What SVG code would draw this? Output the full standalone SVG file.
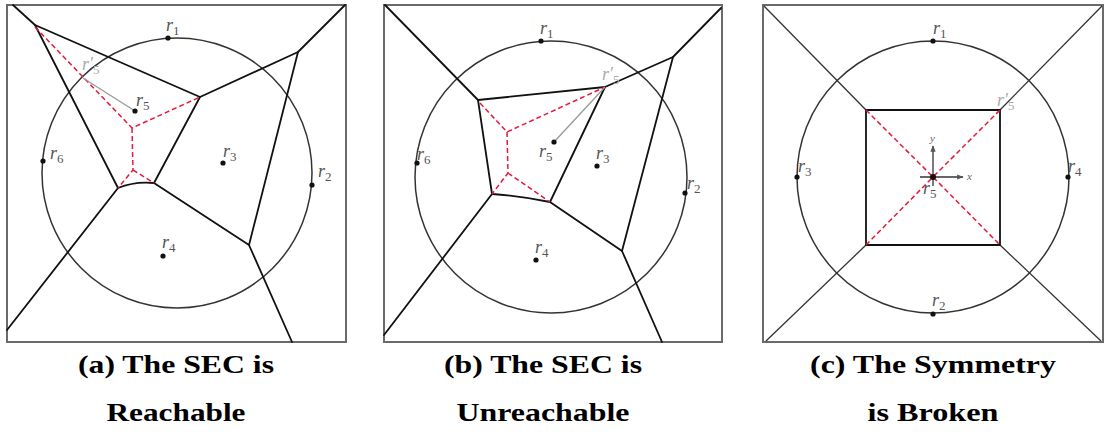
<svg xmlns="http://www.w3.org/2000/svg" width="1106" height="436" viewBox="0 0 1106 436">
<style>
.frame{fill:none;stroke:#6a6a6a;stroke-width:2}
.edge{fill:none;stroke:#111;stroke-width:1.8;stroke-linecap:round;stroke-linejoin:round}
.thin{fill:none;stroke:#333;stroke-width:1.3}
.circ{fill:none;stroke:#333;stroke-width:1.5}
.red{fill:none;stroke:#e8183c;stroke-width:1.5;stroke-dasharray:5 3}
.gray{fill:none;stroke:#999;stroke-width:1.3}
.dot{fill:#111}
.lbl{font-style:italic;font-size:18px;fill:#555}
.lbl2{font-style:italic;font-size:18px;fill:#aaa}
.sub{font-size:13px;font-style:normal}
.ax{font-style:italic;font-size:11px;fill:#666}
.cap{font-weight:bold;font-size:25px;fill:#000;text-anchor:middle;font-stretch:condensed}
</style>
<defs>
<marker id="ah" viewBox="0 0 10 10" refX="9" refY="5" markerWidth="5" markerHeight="5" orient="auto">
<path d="M0,1 L10,5 L0,9 z" fill="#555"/>
</marker>
</defs>

<g id="panel-a">
<rect class="frame" x="7" y="5" width="339" height="337"/>
<circle class="circ" cx="177" cy="173" r="135"/>
<g id="edges-a">
<path class="edge" d="M13,5 L35,25 L200,97 L298,52 L345,5"/>
<path class="edge" d="M35,25 L118,188 L7,330"/>
<path class="edge" d="M200,97 L154,183 L249,245 L292,342"/>
<path class="edge" d="M298,52 L249,245"/>
<path class="edge" d="M118,188 Q135,181 154,183"/>
<path class="red" d="M35,27 L132,128 L200,97 M132,128 L133,170 L118,188 M133,170 L154,183"/>
<line class="gray" x1="135" y1="111" x2="83" y2="78"/>
</g>
<g id="points-a" font-family="Liberation Serif, serif">
<circle class="dot" cx="168" cy="38" r="2.6"/>
<circle class="dot" cx="312" cy="185" r="2.6"/>
<circle class="dot" cx="223" cy="163" r="2.6"/>
<circle class="dot" cx="163" cy="256" r="2.6"/>
<circle class="dot" cx="135" cy="111" r="2.6"/>
<circle class="dot" cx="43" cy="161" r="2.6"/>
<text class="lbl" x="166" y="31">r<tspan class="sub" dy="4">1</tspan></text>
<text class="lbl" x="318" y="177">r<tspan class="sub" dy="4">2</tspan></text>
<text class="lbl" x="223" y="157">r<tspan class="sub" dy="4">3</tspan></text>
<text class="lbl" x="162" y="248">r<tspan class="sub" dy="4">4</tspan></text>
<text class="lbl" x="136" y="106">r<tspan class="sub" dy="4">5</tspan></text>
<text class="lbl" x="50" y="159">r<tspan class="sub" dy="4">6</tspan></text>
<text class="lbl2" x="82" y="70">r′<tspan class="sub" dy="4">5</tspan></text>
</g>
</g>

<g id="panel-b">
<rect class="frame" x="384" y="5" width="338" height="337"/>
<circle class="circ" cx="551" cy="177" r="136"/>
<g id="edges-b">
<path class="edge" d="M385,5 L478,100 L605,87 L673,57 L721,8"/>
<path class="edge" d="M478,100 L492,194 L384,335"/>
<path class="edge" d="M605,87 L550,202 L622,251 L662,342"/>
<path class="edge" d="M673,57 L622,251"/>
<path class="edge" d="M492,194 Q520,196 550,202"/>
<path class="red" d="M480,103 L507,132 L605,87 M507,132 L508,173 L492,194 M508,173 L550,202"/>
<line class="gray" x1="554" y1="142" x2="605" y2="87"/>
</g>
<g id="points-b" font-family="Liberation Serif, serif">
<circle class="dot" cx="541" cy="41" r="2.6"/>
<circle class="dot" cx="685" cy="193" r="2.6"/>
<circle class="dot" cx="597" cy="166" r="2.6"/>
<circle class="dot" cx="536" cy="260" r="2.6"/>
<circle class="dot" cx="554" cy="142" r="2.6"/>
<circle class="dot" cx="417" cy="163" r="2.6"/>
<text class="lbl" x="540" y="34">r<tspan class="sub" dy="4">1</tspan></text>
<text class="lbl" x="687" y="189">r<tspan class="sub" dy="4">2</tspan></text>
<text class="lbl" x="596" y="159">r<tspan class="sub" dy="4">3</tspan></text>
<text class="lbl" x="535" y="253">r<tspan class="sub" dy="4">4</tspan></text>
<text class="lbl" x="539" y="157">r<tspan class="sub" dy="4">5</tspan></text>
<text class="lbl" x="417" y="160">r<tspan class="sub" dy="4">6</tspan></text>
<text class="lbl2" x="602" y="80">r′<tspan class="sub" dy="4">5</tspan></text>
</g>
</g>

<g id="panel-c">
<rect class="frame" x="763" y="5" width="340" height="337"/>
<circle class="circ" cx="933" cy="177" r="136"/>
<g id="edges-c">
<line class="thin" x1="764" y1="6" x2="866" y2="110"/>
<line class="thin" x1="1102" y1="6" x2="1000" y2="110"/>
<line class="thin" x1="766" y1="341" x2="866" y2="245"/>
<line class="thin" x1="1101" y1="341" x2="1000" y2="245"/>
<rect class="edge" x="866" y="110" width="134" height="135"/>
<path class="red" d="M866,110 L933,177 L1000,110 M866,245 L933,177 L1000,245"/>
<line class="thin" x1="920" y1="177" x2="963" y2="177" marker-end="url(#ah)"/>
<line class="thin" x1="933" y1="186" x2="933" y2="146" marker-end="url(#ah)"/>
</g>
<g id="points-c" font-family="Liberation Serif, serif">
<circle class="dot" cx="933" cy="41" r="2.6"/>
<circle class="dot" cx="933" cy="314" r="2.6"/>
<circle class="dot" cx="797" cy="177" r="2.6"/>
<circle class="dot" cx="1068" cy="177" r="2.6"/>
<circle class="dot" cx="933" cy="177" r="3"/>
<text class="lbl" x="933" y="34">r<tspan class="sub" dy="4">1</tspan></text>
<text class="lbl" x="932" y="306">r<tspan class="sub" dy="4">2</tspan></text>
<text class="lbl" x="798" y="172">r<tspan class="sub" dy="4">3</tspan></text>
<text class="lbl" x="1068" y="172">r<tspan class="sub" dy="4">4</tspan></text>
<text class="lbl" x="923" y="194">r<tspan class="sub" dy="4">5</tspan></text>
<text class="lbl2" x="997" y="106">r′<tspan class="sub" dy="4">5</tspan></text>
<text class="ax" x="930" y="142">y</text>
<text class="ax" x="967" y="180">x</text>
</g>
</g>

<g id="captions" font-family="Liberation Serif, DejaVu Serif Condensed, serif">
<text class="cap" x="176" y="373" textLength="196" lengthAdjust="spacingAndGlyphs">(a) The SEC is</text>
<text class="cap" x="176" y="421" textLength="139" lengthAdjust="spacingAndGlyphs">Reachable</text>
<text class="cap" x="543" y="373" textLength="198" lengthAdjust="spacingAndGlyphs">(b) The SEC is</text>
<text class="cap" x="543" y="421" textLength="173" lengthAdjust="spacingAndGlyphs">Unreachable</text>
<text class="cap" x="933" y="373" textLength="246" lengthAdjust="spacingAndGlyphs">(c) The Symmetry</text>
<text class="cap" x="933" y="421" textLength="131" lengthAdjust="spacingAndGlyphs">is Broken</text>
</g>
</svg>
